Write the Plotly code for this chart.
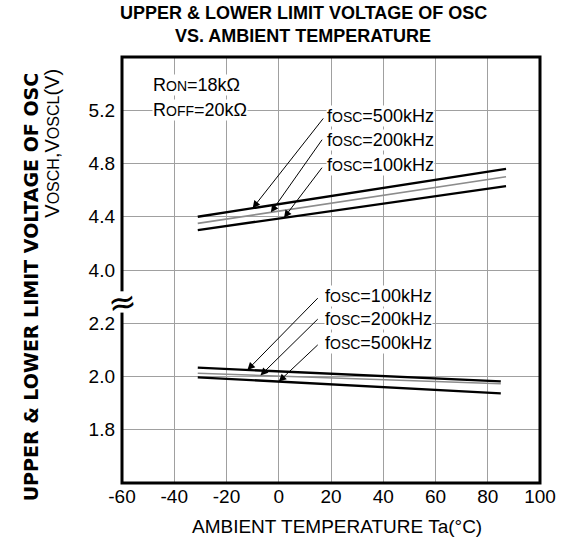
import numpy as np
import plotly.graph_objects as go
from plotly.subplots import make_subplots

# Data
temp_upper = [-31, 87]
temp_lower = [-31, 85]
vosch_500k = [4.40, 4.76]
vosch_200k = [4.35, 4.70]
vosch_100k = [4.30, 4.63]
voscl_100k = [2.033, 1.982]
voscl_200k = [2.012, 1.973]
voscl_500k = [1.997, 1.937]

x_ticks = [-60, -40, -20, 0, 20, 40, 60, 80, 100]
upper_ticks = [4.0, 4.4, 4.8, 5.2]
lower_ticks = [1.8, 2.0, 2.2]

FONT = "Liberation Sans, Arial, sans-serif"
GRID = "#a0a0a0"

fig = make_subplots(rows=2, cols=1, shared_xaxes=True,
                    vertical_spacing=0, row_heights=[4.5, 3.5])

upper = [(vosch_500k, "black", 2.3), (vosch_200k, "#8c8c8c", 1.6), (vosch_100k, "black", 2.3)]
lower = [(voscl_100k, "black", 2.3), (voscl_200k, "#8c8c8c", 1.6), (voscl_500k, "black", 2.3)]
for vals, col, w in upper:
    fig.add_trace(go.Scatter(x=temp_upper, y=vals, mode="lines",
                             line=dict(color=col, width=w)), row=1, col=1)
for vals, col, w in lower:
    fig.add_trace(go.Scatter(x=temp_lower, y=vals, mode="lines",
                             line=dict(color=col, width=w)), row=2, col=1)

def fosc(freq):
    return f"f<span style='font-size:14px'>OSC</span>={freq}kHz"

annotations = []

# arrows: (series temps, series values, head temp, tail x, tail y, yref)
arrows = [
    (temp_upper, vosch_500k, -10, 17.5, 5.15, "y"),
    (temp_upper, vosch_200k, -3, 17.0, 4.99, "y"),
    (temp_upper, vosch_100k, 2, 17.0, 4.78, "y"),
    (temp_lower, voscl_100k, -12, 15.5, 2.30, "y2"),
    (temp_lower, voscl_200k, -7, 15.5, 2.221, "y2"),
    (temp_lower, voscl_500k, 0, 15.5, 2.124, "y2"),
]
for t, v, ht, tx, ty, yref in arrows:
    xr = "x" if yref == "y" else "x2"
    annotations.append(dict(
        x=ht, y=float(np.interp(ht, t, v)), xref=xr, yref=yref,
        ax=tx, ay=ty, axref=xr, ayref=yref, text="", showarrow=True,
        arrowhead=2, arrowsize=1.5, arrowwidth=1, arrowcolor="black"))

# labels (paper coords)
labels = [
    (fosc(500), 0.488, 0.862),
    (fosc(200), 0.488, 0.806),
    (fosc(100), 0.488, 0.747),
    (fosc(100), 0.483, 0.439),
    (fosc(200), 0.483, 0.385),
    (fosc(500), 0.483, 0.329),
    ("R<span style='font-size:14px'>ON</span>=18kΩ", 0.072, 0.934),
    ("R<span style='font-size:14px'>OFF</span>=20kΩ", 0.072, 0.876),
]
for txt, x, y in labels:
    annotations.append(dict(
        text=txt, x=x, y=y, xref="paper", yref="paper", xanchor="left",
        yanchor="middle", showarrow=False, bgcolor="white", borderpad=0,
        font=dict(family=FONT, size=18, color="black")))

# chart title, two lines
for txt, y in [("UPPER & LOWER LIMIT VOLTAGE OF OSC", 1.1026),
               ("VS. AMBIENT TEMPERATURE", 1.0493)]:
    annotations.append(dict(
        text=f"<b>{txt}</b>", x=0.434, y=y, xref="paper", yref="paper",
        xanchor="center", yanchor="middle", showarrow=False,
        font=dict(family=FONT, size=18, color="black")))

# axis titles
annotations.append(dict(
    text="<b>UPPER & LOWER LIMIT VOLTAGE OF OSC</b>", textangle=-90,
    x=-0.217, y=0.46, xref="paper", yref="paper", xanchor="center",
    yanchor="middle", showarrow=False,
    font=dict(family="DejaVu Sans", size=19, color="black")))
annotations.append(dict(
    text="V<span style='font-size:16px'>OSCH</span>,V<span style='font-size:16px'>OSCL</span>(V)",
    textangle=-90, x=-0.167, y=0.797, xref="paper", yref="paper",
    xanchor="center", yanchor="middle", showarrow=False,
    font=dict(family=FONT, size=20, color="black")))
annotations.append(dict(
    text="AMBIENT TEMPERATURE Ta(°C)", x=0.514, y=-0.101, xref="paper",
    yref="paper", xanchor="center", yanchor="middle", showarrow=False,
    font=dict(family=FONT, size=19, color="black")))

# axis break squiggle
annotations.append(dict(
    text="≈", x=0, y=0.425, xref="paper", yref="paper", showarrow=False,
    xanchor="center", yanchor="middle", textangle=-10,
    font=dict(family="DejaVu Sans", size=34, color="black")))

fig.update_layout(
    width=568, height=542,
    margin=dict(l=122, r=20, t=57, b=59),
    paper_bgcolor="white", plot_bgcolor="white",
    showlegend=False,
    font=dict(family=FONT, size=19, color="black"),
    annotations=annotations,
    shapes=[
        dict(type="rect", xref="paper", yref="paper", x0=0, y0=0, x1=1, y1=1,
             line=dict(color="black", width=3), layer="above"),
        dict(type="rect", xref="paper", yref="paper", xsizemode="pixel",
             xanchor=0, x0=-4, x1=4, y0=0.40, y1=0.45,
             line=dict(width=0), fillcolor="white", layer="above"),
    ],
)

fig.update_xaxes(range=[-60, 100], tickvals=x_ticks, ticktext=[str(v) for v in x_ticks],
                 showgrid=True, gridcolor=GRID, gridwidth=1, zeroline=False,
                 showline=False, ticks="", tickfont=dict(size=19))
fig.update_xaxes(showticklabels=False, row=1, col=1)
fig.update_yaxes(range=[3.8, 5.6], tickvals=upper_ticks, ticktext=[f"{v:.1f}" for v in upper_ticks],
                 row=1, col=1)
fig.update_yaxes(range=[1.6, 2.3], tickvals=lower_ticks, ticktext=[f"{v:.1f}" for v in lower_ticks],
                 row=2, col=1)
fig.update_yaxes(showgrid=True, gridcolor=GRID, gridwidth=1, zeroline=False,
                 showline=False, ticks="", ticklabelstandoff=6, tickfont=dict(size=19))

fig.write_html("out.html", config={"displayModeBar": False},
               post_script="document.body.style.margin='0px';")
